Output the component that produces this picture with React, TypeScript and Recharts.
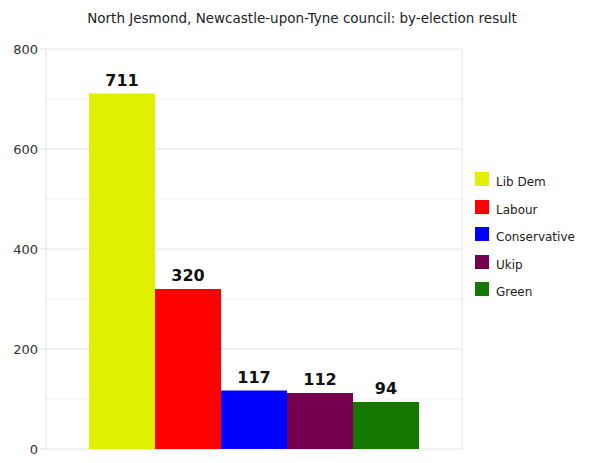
import { Bar, BarChart, CartesianGrid, LabelList, XAxis, YAxis } from "recharts";

const parties = ["Lib Dem", "Labour", "Conservative", "Ukip", "Green"];
const votes = [711, 320, 117, 112, 94];
const colors = ["#e1ef00", "#ff0000", "#0000ff", "#760050", "#137700"];
const yTicks = [0, 200, 400, 600, 800];
const minorTicks = [100, 300, 500, 700];
const yMax = 800;

const FONT = "'DejaVu Sans', sans-serif";

const row: Record<string, number | string> = { name: "result" };
parties.forEach((p, i) => {
  row[p] = votes[i];
});
const data = [row];

// minor grid lines at the odd hundreds, placed with the y scale
const minorLines = ({ yAxis, offset }: any) =>
  minorTicks.map((t) =>
    yAxis && typeof yAxis.scale === "function"
      ? yAxis.scale(t)
      : offset.top + offset.height * (1 - t / yMax)
  );

function PartyLegend() {
  return (
    <div
      style={{
        position: "absolute",
        left: 475,
        top: 172,
        fontFamily: FONT,
        fontSize: 12,
        color: "#222",
      }}
    >
      {parties.map((p, i) => (
        <div
          key={p}
          style={{ display: "flex", alignItems: "flex-start", height: 14, marginBottom: 13.5 }}
        >
          <span
            style={{ width: 14, height: 14, background: colors[i], display: "inline-block" }}
          />
          <span style={{ marginLeft: 7, lineHeight: "14px", position: "relative", top: 3 }}>
            {p}
          </span>
        </div>
      ))}
    </div>
  );
}

export default function App() {
  return (
    <div style={{ position: "absolute", left: 0, top: 0, width: 600, height: 463, background: "#fff" }}>
      <div
        style={{
          position: "absolute",
          left: 0,
          top: 10,
          width: 604,
          textAlign: "center",
          fontFamily: FONT,
          fontSize: 13.5,
          color: "#222",
        }}
      >
        North Jesmond, Newcastle-upon-Tyne council: by-election result
      </div>
      <BarChart
        width={600}
        height={463}
        data={data}
        margin={{ top: 49, right: 138, bottom: 14, left: 0 }}
        barCategoryGap={43}
        barGap={0}
      >
        <CartesianGrid
          stroke="#f1f1f1"
          vertical={false}
          horizontalCoordinatesGenerator={minorLines}
        />
        <CartesianGrid stroke="#e4e4e4" verticalPoints={[462]} />
        <XAxis dataKey="name" hide />
        <YAxis
          width={46}
          domain={[0, yMax]}
          ticks={yTicks}
          tickSize={6}
          stroke="#e0e0e0"
          tick={{ fill: "#333", fontSize: 13, fontFamily: FONT }}
        />
        {parties.map((p, i) => (
          <Bar key={p} dataKey={p} fill={colors[i]} isAnimationActive={false}>
            <LabelList
              dataKey={p}
              position="top"
              offset={8}
              fill="#111"
              fontSize={16}
              fontWeight="bold"
              fontFamily={FONT}
            />
          </Bar>
        ))}
      </BarChart>
      <PartyLegend />
    </div>
  );
}
